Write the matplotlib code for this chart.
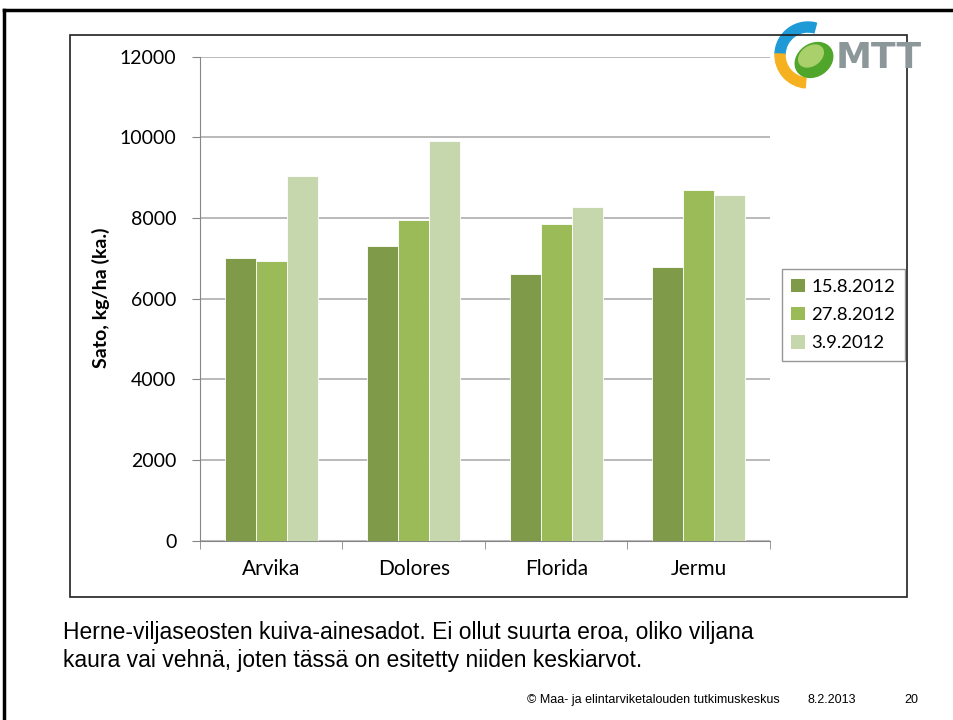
import numpy as np
import matplotlib
matplotlib.use('Agg')
from matplotlib import pyplot as plt
from matplotlib.patches import Rectangle, Wedge, Ellipse
from matplotlib.lines import Line2D

# Data
varieties = ['Arvika', 'Dolores', 'Florida', 'Jermu']
dates = ['15.8.2012', '27.8.2012', '3.9.2012']
yield_15_8 = [7000, 7310, 6600, 6780]
yield_27_8 = [6930, 7940, 7860, 8690]
yield_3_9 = [9030, 9915, 8280, 8570]
colors = ['#7F9A48', '#9BBB59', '#C7D7AD']

W, H = 954, 720
fig = plt.figure(figsize=(W / 100, H / 100), dpi=100)

def fx(x):
    return x / W

def fy(y):
    return 1 - y / H

font = ['Lato', 'DejaVu Sans']
cap_font = ['Liberation Sans', 'DejaVu Sans']

# slide border (top and left)
fig.add_artist(Line2D([fx(4), 1], [fy(10), fy(10)], color='black', lw=2.5))
fig.add_artist(Line2D([fx(4), fx(4)], [fy(10), 0], color='black', lw=2.5))

# chart frame
fig.add_artist(Rectangle((fx(70), fy(597)), fx(907) - fx(70), fy(35) - fy(597),
                         fill=False, ec='#202020', lw=1.2))

ax = fig.add_axes([fx(200), fy(540.5), fx(770) - fx(200), fy(56.6) - fy(540.5)])

x = np.arange(len(varieties))
w = 0.217
for i, vals in enumerate([yield_15_8, yield_27_8, yield_3_9]):
    ax.bar(x + (i - 1) * w, vals, width=w, color=colors[i], edgecolor='white',
           linewidth=0.6, label=dates[i], zorder=3)

ax.set_xlim(-0.5, len(varieties) - 0.5)
ax.set_ylim(0, 12000)
ax.set_yticks(np.arange(0, 12001, 2000))
ax.yaxis.grid(True, color='#B4B4B4', lw=1.3, zorder=0)
for s in ['top', 'right']:
    ax.spines[s].set_visible(False)
ax.spines['left'].set_color('#868686')
ax.spines['bottom'].set_color('#868686')
ax.tick_params(axis='y', length=6, color='#868686', labelsize=14, pad=11,
               labelcolor='black')
ax.set_xticks(x)
ax.set_xticklabels(varieties, fontsize=15)
ax.tick_params(axis='x', length=0, pad=13)
ax.set_xticks(np.arange(-0.5, len(varieties)), minor=True)
ax.tick_params(axis='x', which='minor', length=6, color='#868686')
for lab in ax.get_yticklabels() + ax.get_xticklabels():
    lab.set_family(font)

fig.text(fx(101), fy(298), 'Sato, kg/ha (ka.)', rotation=90, ha='center',
         va='center', fontsize=14, fontweight='bold', family=font)

leg = ax.legend(loc='center left', prop={'family': font, 'size': 13.3},
                frameon=True, fancybox=False, edgecolor='#7F7F7F',
                handlelength=0.75, handleheight=0.75, handletextpad=0.35,
                labelspacing=0.65, borderpad=0.5, borderaxespad=0)
leg.get_frame().set_linewidth(1.0)
leg.set_bbox_to_anchor((fx(782), fy(315)), transform=fig.transFigure)
for h in leg.legend_handles:
    h.set_edgecolor('none')

# MTT logo approximation
cx, cy = 808, 55
lax = fig.add_axes([fx(cx - 40), fy(cy + 40), fx(80), fx(80) * W / H])
lax.set_xlim(-40, 40)
lax.set_ylim(-40, 40)
lax.set_aspect('equal')
lax.axis('off')
lax.add_patch(Wedge((0, 0), 33, 75, 178, width=10, color='#1E9AD6'))
lax.add_patch(Wedge((0, 0), 33, 178, 265, width=10, color='#F5B120'))
lax.add_patch(Ellipse((6, -5), 40, 32, angle=35, color='#4FA62A'))
lax.add_patch(Ellipse((3, -1), 27, 19, angle=35, color='#A9D06A'))
fig.text(fx(836), fy(58), 'MTT', fontsize=26, fontweight='bold', color='#8C979A',
         ha='left', va='center', family=['DejaVu Sans'])

# caption
fig.text(fx(63), fy(632), 'Herne-viljaseosten kuiva-ainesadot. Ei ollut suurta eroa, oliko viljana',
         fontsize=16.5, ha='left', va='center', family=cap_font)
fig.text(fx(63), fy(660), 'kaura vai vehnä, joten tässä on esitetty niiden keskiarvot.',
         fontsize=16.5, ha='left', va='center', family=cap_font)

# footer
fig.text(fx(527), fy(700), '© Maa- ja elintarviketalouden tutkimuskeskus', fontsize=9,
         ha='left', va='center', family=cap_font)
fig.text(fx(808), fy(700), '8.2.2013', fontsize=9, ha='left', va='center', family=cap_font)
fig.text(fx(904), fy(700), '20', fontsize=9, ha='left', va='center', family=cap_font)

fig.savefig('out.png', dpi=100)
